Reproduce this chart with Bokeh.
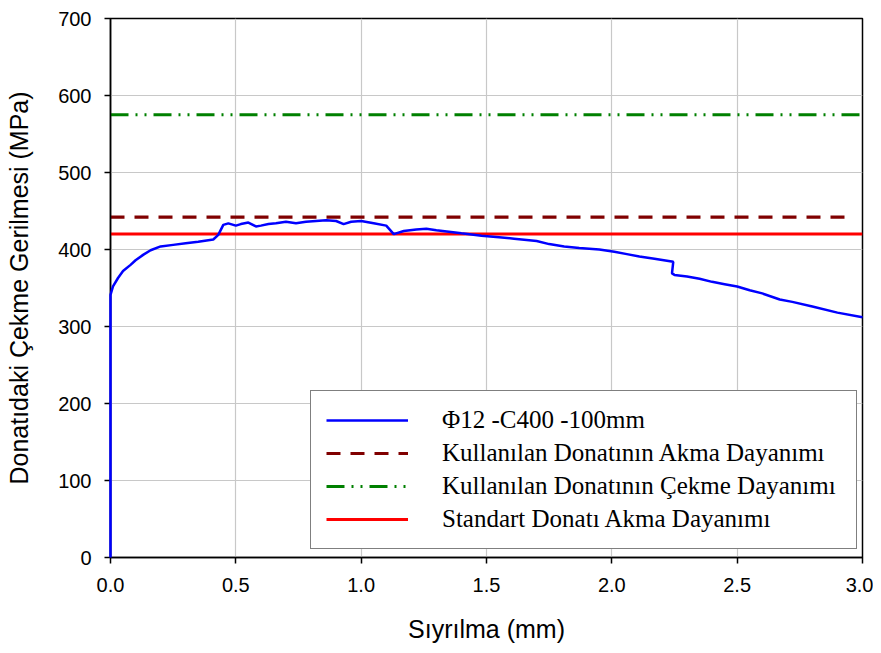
from bokeh.plotting import figure
from bokeh.models import Range1d, Legend, LegendItem, FixedTicker
from bokeh.embed import file_html
from bokeh.resources import INLINE

# Measured curve: slip (mm) vs. bar stress (MPa)
slip = [0.0, 0.0, 0.01, 0.03, 0.05, 0.08, 0.10, 0.13, 0.16, 0.20, 0.25, 0.30, 0.35, 0.41,
        0.43, 0.45, 0.47, 0.50, 0.52, 0.55, 0.58, 0.60, 0.63, 0.66, 0.70, 0.74, 0.78,
        0.82, 0.86, 0.90, 0.93, 0.96, 1.00, 1.05, 1.10, 1.13, 1.17, 1.22, 1.26, 1.30,
        1.35, 1.40, 1.48, 1.55, 1.61, 1.70, 1.75, 1.81, 1.87, 1.95, 2.01, 2.06, 2.11,
        2.17, 2.245, 2.24, 2.25, 2.30, 2.35, 2.40, 2.45, 2.50, 2.55, 2.60, 2.67, 2.72,
        2.80, 2.90, 3.00]
stress = [0, 341, 352, 363, 372, 380, 386, 393, 399, 404, 406, 408, 410, 413,
          419, 432, 434, 431, 433, 435, 430, 431, 433, 434, 436, 434, 436,
          437, 438, 437, 433, 436, 437, 434, 431, 420, 424, 426, 427, 425,
          423, 421, 418, 416, 414, 411, 407, 404, 402, 400, 397, 394, 391,
          388, 384, 369, 367, 365, 362, 358, 355, 352, 347, 343, 335, 332,
          326, 318, 312]

akma_x = [0.0, 2.95]
akma_y = [442, 442]
cekme_x = [0.0, 3.0]
cekme_y = [575, 575]
std_x = [0.0, 3.0]
std_y = [420, 420]

labels = ["\u03a612 -C400 -100mm",
          "Kullan\u0131lan Donat\u0131n\u0131n Akma Dayan\u0131m\u0131",
          "Kullan\u0131lan Donat\u0131n\u0131n \u00c7ekme Dayan\u0131m\u0131",
          "Standart Donat\u0131 Akma Dayan\u0131m\u0131"]

x_ticks = [0.0, 0.5, 1.0, 1.5, 2.0, 2.5, 3.0]
y_ticks = [0, 100, 200, 300, 400, 500, 600, 700]

p = figure(width=873, height=645, output_backend="svg", toolbar_location=None,
           x_range=Range1d(0, 3), y_range=Range1d(0, 700),
           min_border_left=110, min_border_right=11, min_border_top=18, min_border_bottom=87)

p.outline_line_color = "black"
p.outline_line_width = 1.5
p.background_fill_color = "white"

for ax in (p.xaxis[0], p.yaxis[0]):
    ax.axis_line_color = "black"
    ax.axis_line_width = 1.5
    ax.major_tick_line_color = "black"
    ax.major_tick_line_width = 1.5
    ax.major_tick_out = 6
    ax.major_tick_in = 0
    ax.minor_tick_line_color = None
    ax.major_label_text_font = "Liberation Sans"
    ax.major_label_text_font_size = "20px"
    ax.major_label_text_color = "black"
    ax.axis_label_text_font = "Liberation Sans"
    ax.axis_label_text_font_size = "25px"
    ax.axis_label_text_font_style = "normal"
    ax.axis_label_text_color = "black"

p.xaxis.ticker = FixedTicker(ticks=x_ticks)
p.yaxis.ticker = FixedTicker(ticks=y_ticks)
p.xaxis.major_label_overrides = {t: f"{t:.1f}" for t in x_ticks}
p.xaxis.axis_label = "S\u0131yr\u0131lma (mm)"
p.yaxis.axis_label = "Donat\u0131daki \u00c7ekme Gerilmesi (MPa)"
p.xaxis.axis_label_standoff = 20
p.yaxis.axis_label_standoff = 22
p.xaxis.major_label_standoff = 14
p.yaxis.major_label_standoff = 13

p.xgrid.ticker = FixedTicker(ticks=x_ticks)
p.ygrid.ticker = FixedTicker(ticks=y_ticks)
p.grid.grid_line_color = "#c8c8c8"
p.grid.grid_line_width = 1.2

r_curve = p.line(slip, stress, line_color="#0000ff", line_width=2.5, level="overlay")
r_akma = p.line(akma_x, akma_y, line_color="#800000", line_width=3.2, line_dash="14 10")
r_cekme = p.line(cekme_x, cekme_y, line_color="#008000", line_width=3.2, line_dash="18 7 2 7 2 7")
r_std = p.line(std_x, std_y, line_color="#ff0000", line_width=3)

legend = Legend(items=[LegendItem(label=labels[0], renderers=[r_curve]),
                       LegendItem(label=labels[1], renderers=[r_akma]),
                       LegendItem(label=labels[2], renderers=[r_cekme]),
                       LegendItem(label=labels[3], renderers=[r_std])],
                location=(200, 8))
legend.margin = 0
legend.padding = 15
legend.glyph_width = 82
legend.glyph_height = 28
legend.label_height = 28
legend.label_width = 399
legend.spacing = 5
legend.label_standoff = 34
legend.label_text_font = "Liberation Serif"
legend.label_text_font_size = "25px"
legend.label_text_color = "black"
legend.border_line_color = "black"
legend.border_line_width = 1.5
legend.background_fill_color = "white"
legend.background_fill_alpha = 1.0
p.add_layout(legend, "center")

open("out.html", "w").write(file_html(p, INLINE))
